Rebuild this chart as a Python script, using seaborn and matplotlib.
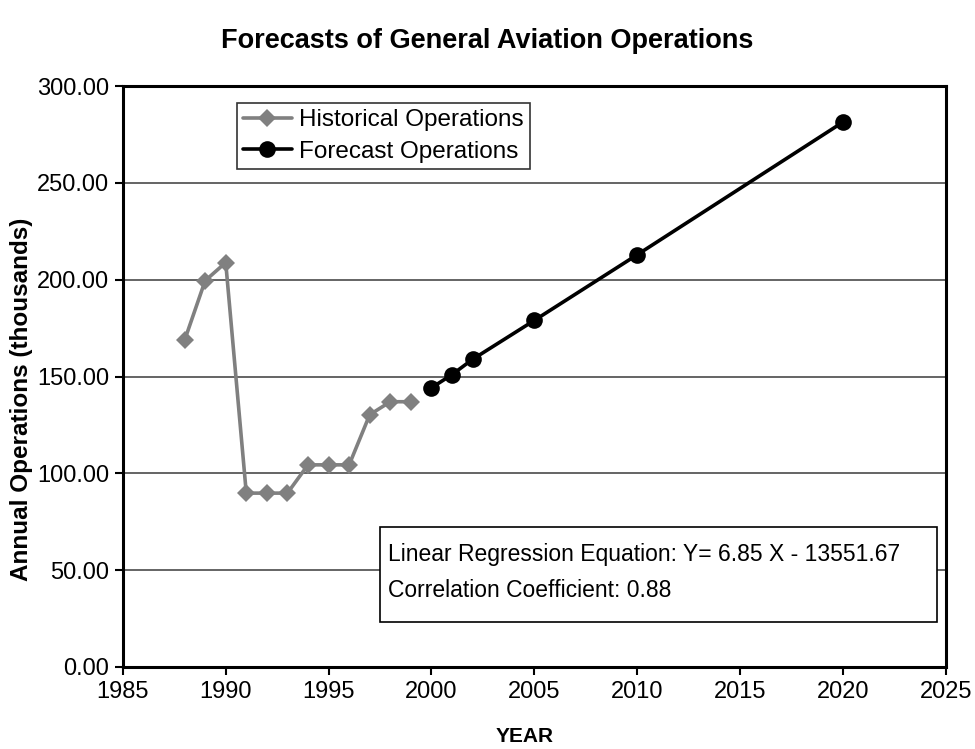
import matplotlib
matplotlib.use("Agg")
import matplotlib.pyplot as plt
from matplotlib.patches import Rectangle
import seaborn as sns
import pandas as pd

hist_years = [1988, 1989, 1990, 1991, 1992, 1993, 1994, 1995, 1996, 1997, 1998, 1999]
hist_ops = [168.7, 199.5, 208.9, 89.8, 89.8, 89.8, 104.4, 104.4, 104.4, 130.3, 137.0, 137.0]
fc_years = [2000, 2001, 2002, 2005, 2010, 2020]
fc_ops = [144.2, 151.0, 158.9, 179.0, 212.9, 281.4]

x_ticks = [1985, 1990, 1995, 2000, 2005, 2010, 2015, 2020, 2025]
y_ticks = [0, 50, 100, 150, 200, 250, 300]

sns.set_theme(style="white", rc={"text.color": "black", "axes.labelcolor": "black",
                                 "xtick.color": "black", "ytick.color": "black"})
plt.rcParams["font.family"] = ["Liberation Sans", "DejaVu Sans"]

hist = pd.DataFrame({"year": hist_years, "ops": hist_ops})
fc = pd.DataFrame({"year": fc_years, "ops": fc_ops})

fig = plt.figure(figsize=(9.75, 7.49), dpi=100)
ax = fig.add_axes([0.126, 0.1095, 0.844, 0.7755])

for y in y_ticks[1:-1]:
    ax.axhline(y, color="#3a3a3a", lw=1.1, zorder=0)

sns.lineplot(data=hist, x="year", y="ops", ax=ax, color="#808080", lw=2.6,
             marker="D", markersize=9.5, markeredgewidth=0,
             label="Historical Operations")
sns.lineplot(data=fc, x="year", y="ops", ax=ax, color="black", lw=2.6,
             marker="o", markersize=12, markeredgewidth=0,
             label="Forecast Operations")

ax.set_xlim(1985, 2025)
ax.set_ylim(0, 300)
ax.set_xticks(x_ticks)
ax.set_yticks(y_ticks)
ax.set_yticklabels([f"{v:.2f}" for v in y_ticks])
ax.tick_params(axis="both", labelsize=17, direction="out", length=6, width=1.5,
               color="black", left=True, bottom=True, pad=4)
for s in ax.spines.values():
    s.set_color("black")
    s.set_linewidth(2.2)

ax.set_xlabel("")
ax.set_ylabel("")
fig.text(525 / 975, 1 - 736 / 749, "YEAR", fontsize=15, fontweight="bold",
         ha="center", va="center")
fig.text(22 / 975, 1 - 399 / 749, "Annual Operations (thousands)", fontsize=17.5,
         fontweight="bold", rotation=90, ha="center", va="center")
fig.text(0.5, 0.945, "Forecasts of General Aviation Operations", fontsize=19.5,
         fontweight="bold", ha="center", va="center")

leg = ax.legend(loc="upper left", bbox_to_anchor=(0.1385, 0.971), fontsize=17.5,
                frameon=True, fancybox=False, borderpad=0.25, labelspacing=0.4,
                handlelength=2.0, handletextpad=0.3, borderaxespad=0)
leg.get_frame().set_edgecolor("black")
leg.get_frame().set_linewidth(1.2)

ax.add_patch(Rectangle((0.3123, 0.0775), 0.6767, 0.1635, transform=ax.transAxes,
                       facecolor="white", edgecolor="black", lw=1.2, zorder=5))
ax.text(0.322, 0.1928, "Linear Regression Equation: Y= 6.85 X - 13551.67",
        transform=ax.transAxes, fontsize=16.5, va="center", ha="left", zorder=6)
ax.text(0.322, 0.1325, "Correlation Coefficient: 0.88",
        transform=ax.transAxes, fontsize=16.5, va="center", ha="left", zorder=6)

fig.savefig("out.png", dpi=100)
